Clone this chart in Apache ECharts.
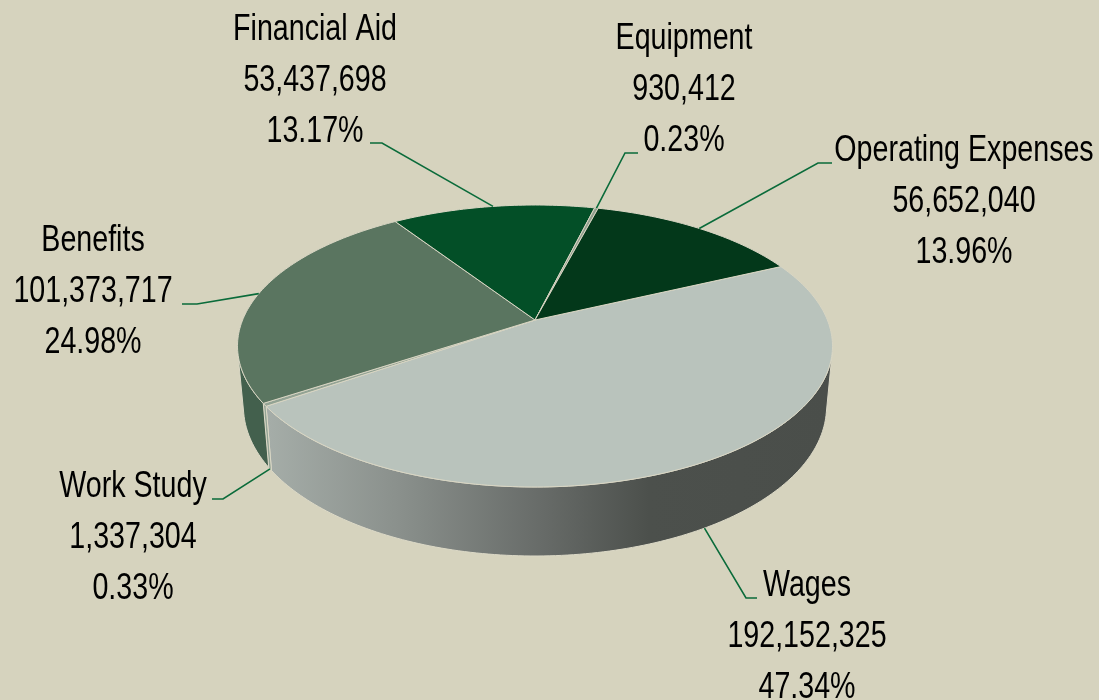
<!DOCTYPE html>
<html>
<head>
<meta charset="utf-8">
<title>Expenses</title>
<style>
  html, body { margin: 0; padding: 0; background: #d6d3be; }
  #chart { width: 1099px; height: 700px; }
</style>
<script src="https://cdn.jsdelivr.net/npm/echarts@6/dist/echarts.min.js"></script>
</head>
<body>
<div id="chart"></div>
<script>
// clockwise from the boundary between Operating Expenses and Wages
const categories = ['Wages', 'Work Study', 'Benefits', 'Financial Aid', 'Equipment', 'Operating Expenses']
const amounts = [192152325, 1337304, 101373717, 53437698, 930412, 56652040]
const percents = ['47.34%', '0.33%', '24.98%', '13.17%', '0.23%', '13.96%']

const topColors = ['#b9c3bc', '#93a394', '#5a7560', '#034f27', '#8f9e8d', '#03381a']
const wallColors = [
  {
    type: 'linear', x: 263, y: 0, x2: 830, y2: 0, global: true,
    colorStops: [
      { offset: 0, color: '#a6aea9' },
      { offset: 0.24, color: '#8a908c' },
      { offset: 0.5, color: '#666a67' },
      { offset: 0.68, color: '#4c504c' },
      { offset: 1, color: '#4a4e4a' }
    ]
  },
  '#93a394', '#43604d', '#034f27', '#8f9e8d', '#03381a'
]

// where each label sits and how its leader bends
const labelLayout = [
  { x: 807, y: 561, bend: [[746, 598], [757, 598]], wall: true },
  { x: 133, y: 462, bend: [[223, 499], [212, 499]], wall: true },
  { x: 93, y: 216, bend: [[197, 304], [182, 304]] },
  { x: 315, y: 5, bend: [[382, 143], [370, 143]] },
  { x: 684, y: 14, bend: [[625, 153], [638, 153]] },
  { x: 964, y: 126, bend: [[818, 163], [832, 163]] }
]

// the disc is a circle seen in perspective, so the apex is above the ellipse middle
const cx = 535, cy = 320
const radiusX = 292.4, radiusY = 136.2
const persp = 0.1844
const depth = 59, bottomScale = 0.98
const startAngle = -25

const total = amounts.reduce((a, b) => a + b, 0)
const angles = [startAngle]
amounts.forEach((v, i) => angles.push(angles[i] + v / total * 360))

function rim(deg, bottom) {
  const u = Math.cos(deg * Math.PI / 180)
  const v = Math.sin(deg * Math.PI / 180)
  const w = 1 - persp * v
  const s = bottom ? bottomScale : 1
  return [cx + radiusX * s * u / w, cy + radiusY * s * v / w + (bottom ? depth / w : 0)]
}

function arcPoints(from, to, bottom) {
  const pts = []
  const n = Math.max(2, Math.ceil(Math.abs(to - from)))
  for (let i = 0; i <= n; i++) {
    pts.push(rim(from + (to - from) * i / n, bottom))
  }
  return pts
}

// a piece of wall faces the viewer when the rim runs one way round its vertical edge
function facesViewer(deg) {
  const p = rim(deg, false), q = rim(deg + 0.5, false), b = rim(deg, true)
  return (q[0] - p[0]) * (b[1] - p[1]) - (q[1] - p[1]) * (b[0] - p[0]) < 0
}

function renderWall(params) {
  const i = params.dataIndex
  let from = null, to = null
  for (let d = angles[i]; d < angles[i + 1]; d += 0.25) {
    if (facesViewer(d)) {
      if (from === null) from = d
      to = Math.min(d + 0.25, angles[i + 1])
    }
  }
  if (from === null) return null
  const a = arcPoints(from, to, false)
  const b = arcPoints(from, to, true).reverse()
  return {
    type: 'polygon',
    shape: { points: a.concat(b) },
    style: { fill: wallColors[i], stroke: '#dcd9c7', lineWidth: 1 }
  }
}

function renderTop(params) {
  const i = params.dataIndex
  return {
    type: 'polygon',
    shape: { points: [[cx, cy]].concat(arcPoints(angles[i], angles[i + 1], false)) },
    style: { fill: topColors[i], stroke: '#d9d6c4', lineWidth: 1 }
  }
}

function renderLabel(params) {
  const i = params.dataIndex
  const layout = labelLayout[i]
  const mid = (angles[i] + angles[i + 1]) / 2
  const start = rim(mid, layout.wall)
  return {
    type: 'group',
    children: [
      {
        type: 'polyline',
        shape: { points: [start].concat(layout.bend) },
        style: { fill: null, stroke: '#0a6b3a', lineWidth: 1.6 }
      },
      {
        type: 'text',
        x: layout.x,
        y: layout.y,
        scaleX: 0.795,
        style: {
          text: categories[i] + '\n' + amounts[i].toLocaleString('en-US') + '\n' + percents[i],
          fill: '#000',
          font: '36px "Liberation Sans", sans-serif',
          lineHeight: 51,
          align: 'center',
          verticalAlign: 'top'
        }
      }
    ]
  }
}

const chart = echarts.init(document.getElementById('chart'))
chart.setOption({
  backgroundColor: '#d6d3be',
  animation: false,
  series: [
    { type: 'custom', name: 'walls', coordinateSystem: 'none', z: 1, silent: true, data: amounts, renderItem: renderWall },
    { type: 'custom', name: 'slices', coordinateSystem: 'none', z: 2, silent: true, data: amounts, renderItem: renderTop },
    { type: 'custom', name: 'labels', coordinateSystem: 'none', z: 3, silent: true, data: amounts, renderItem: renderLabel }
  ]
})
</script>
</body>
</html>
